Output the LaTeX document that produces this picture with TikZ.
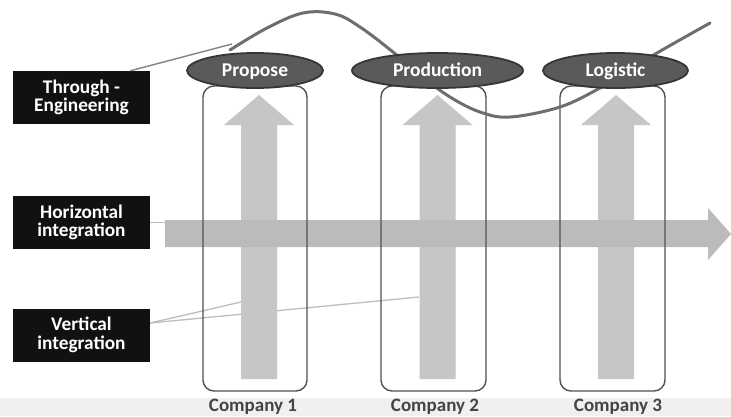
\documentclass[tikz,border=0pt]{standalone}
\usepackage{fontspec}
\setmainfont{Carlito}
\usetikzlibrary{shapes.geometric}
\definecolor{boxblack}{HTML}{111111}
\definecolor{ovalfill}{HTML}{5A5A5A}
\definecolor{ovalline}{HTML}{363636}
\definecolor{varrowc}{HTML}{C6C6C6}
\definecolor{harrowc}{HTML}{BBBBBB}
\definecolor{framec}{HTML}{505050}
\definecolor{curvec}{HTML}{6E6E6E}
\definecolor{thinc}{HTML}{BDBDBD}
\definecolor{stripc}{HTML}{F0F0F0}
\definecolor{labc}{HTML}{444444}
\begin{document}
\begin{tikzpicture}[x=1pt,y=-1pt,
  labelbox/.style={fill=boxblack, text=white, font=\bfseries\fontsize{19.3}{18.5}\selectfont,
    align=center, minimum width=137pt, minimum height=53pt, inner sep=0pt},
  oval/.style={ellipse, draw=ovalline, line width=1.8pt, fill=ovalfill, text=white,
    font=\bfseries\fontsize{19.5}{20}\selectfont, inner sep=0pt, minimum height=35pt,
    text height=14pt, text depth=2pt},
  companybox/.style={draw=framec, line width=1.4pt, rounded corners=11pt, minimum height=305pt, inner sep=0pt},
  varrow/.style={fill=varrowc},
  harrow/.style={fill=harrowc},
  connector/.style={draw=thinc, line width=1.3pt},
  teline/.style={draw=curvec!85, line width=1.4pt},
  wave/.style={draw=curvec, line width=3pt, line cap=round},
  complabel/.style={text=labc, font=\bfseries\fontsize{19}{20}\selectfont, inner sep=0pt, anchor=base}
]
\useasboundingbox (0,0) rectangle (731,416);
\fill[white] (0,0) rectangle (731,416);
\fill[stripc] (0,398) rectangle (731,416);

% labels
\node[labelbox] (te) at (81.5,97.5) {Through -\\Engineering};
\node[labelbox] (hi) at (81.5,222.5) {Horizontal\\integration};
\node[labelbox] (vi) at (81.5,335) {Vertical\\integration};

% connector end points
\coordinate (v1) at (241,302);
\coordinate (v2) at (419,297);
\coordinate (hs) at (165,222.5);
\coordinate (cs) at (232,44);

% vertical integration connectors (behind arrows)
\draw[connector] ([yshift=12pt]vi.east) -- (v1);
\draw[connector] ([yshift=12pt]vi.east) -- (v2);

% vertical arrows
\foreach \cx in {259,437.5,616}{
  \fill[varrow] (\cx-18,379) -- (\cx-18,125) -- (\cx-35,125) -- (\cx,95)
     -- (\cx+35,125) -- (\cx+18,125) -- (\cx+18,379) -- cycle;
}

% horizontal arrow
\fill[harrow] (165,220) -- (708,220) -- (708,208) -- (731,234) -- (708,260)
   -- (708,247) -- (165,247) -- cycle;
\draw[connector] (hi.east |- hs) -- (hs);

% company frames
\node[companybox, minimum width=104pt] (c1) at (255,238.5) {};
\node[companybox, minimum width=105pt] (c2) at (433.5,238.5) {};
\node[companybox, minimum width=105pt] (c3) at (612.5,238.5) {};

% through-engineering wave
\draw[wave] plot[smooth, tension=0.6] coordinates {
  (230,50) (267,28) (303,13) (335,14) (360,27) (393,52) (420,75) (450,97)
  (480,112) (510,117) (560,107) (600,88) (630,70) (657,53) (710,23)};
\draw[teline] ([xshift=-20pt]te.north east) -- (cs);

% ovals
\node[oval, minimum width=136pt] (p1) at (255,70.5) {Propose};
\node[oval, minimum width=171pt] (p2) at (437.5,70.5) {Production};
\node[oval, minimum width=145pt] (p3) at (615.5,70.5) {Logistic};

% company labels
\node[complabel] (l1) at (253,411) {Company 1};
\node[complabel] (l2) at (435,411) {Company 2};
\node[complabel] (l3) at (618,411) {Company 3};
\end{tikzpicture}
\end{document}
